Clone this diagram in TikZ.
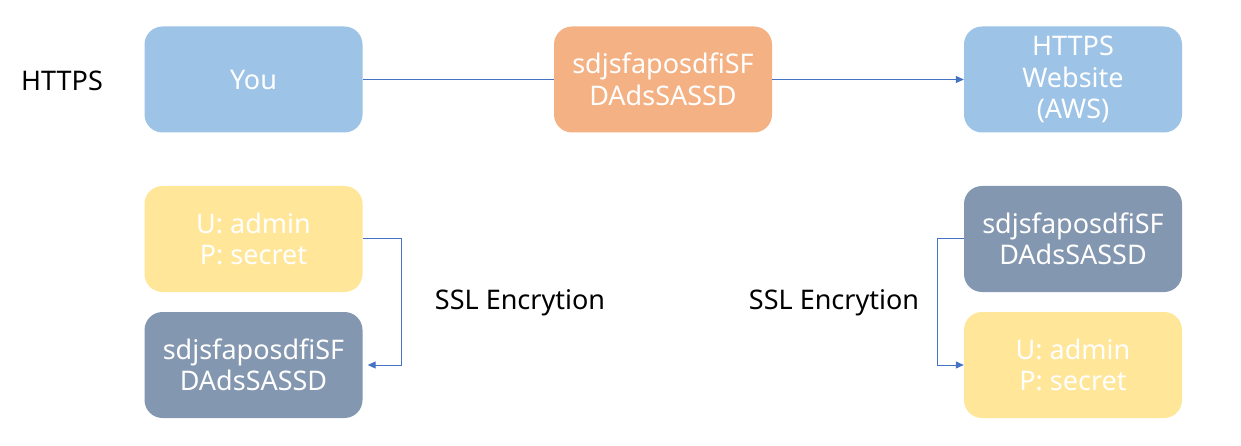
\documentclass[tikz,border=0pt]{standalone}
\usepackage{fontspec}
\setmainfont{Noto Sans}
\usetikzlibrary{arrows.meta}
\definecolor{bluebox}{HTML}{9DC3E6}
\definecolor{orangebox}{HTML}{F4B183}
\definecolor{yellowbox}{HTML}{FFE699}
\definecolor{slatebox}{HTML}{8497B0}
\definecolor{linkblue}{HTML}{4472C4}
\tikzset{
  box/.style={rounded corners=18pt, minimum width=218pt, minimum height=106pt,
    inner sep=0pt, text=white, align=center, font=\fontsize{27}{31.5}\selectfont},
  lbl/.style={text=black, font=\fontsize{27}{31.5}\selectfont, inner sep=0pt},
  link/.style={draw=linkblue, line width=1pt},
  tip/.style={-{Triangle[length=8pt,width=7pt]}}
}
\begin{document}
\begin{tikzpicture}[x=1pt,y=-1pt]
\useasboundingbox (0,0) rectangle (1241,446);
\node[box, fill=bluebox] (you) at (253.5,79.5) {You};
\node[box, fill=orangebox] (enc) at (663,79.5) {sdjsfaposdfiSF\\DAdsSASSD};
\node[box, fill=bluebox] (web) at (1073,79.5) {HTTPS\\Website\\(AWS)};
\node[box, fill=yellowbox] (lplain) at (253.5,239) {U: admin\\P: secret};
\node[box, fill=slatebox] (lenc) at (253.5,365) {sdjsfaposdfiSF\\DAdsSASSD};
\node[box, fill=slatebox] (renc) at (1073,239) {sdjsfaposdfiSF\\DAdsSASSD};
\node[box, fill=yellowbox] (rplain) at (1073,365) {U: admin\\P: secret};
\node[lbl] (https) at (62,81) {HTTPS};
\node[lbl] (lssl) at (520,303) {SSL Encrytion};
\node[lbl] (rssl) at (834,303) {SSL Encrytion};
\draw[link] (you.east) -- (enc.west);
\draw[link, tip] (enc.east) -- (web.west);
\draw[link, tip] (lplain.east) -- ++(39,0) |- ([xshift=5pt]lenc.east);
\draw[link, tip] (renc.west) -- ++(-26,0) |- (rplain.west);
\end{tikzpicture}
\end{document}
